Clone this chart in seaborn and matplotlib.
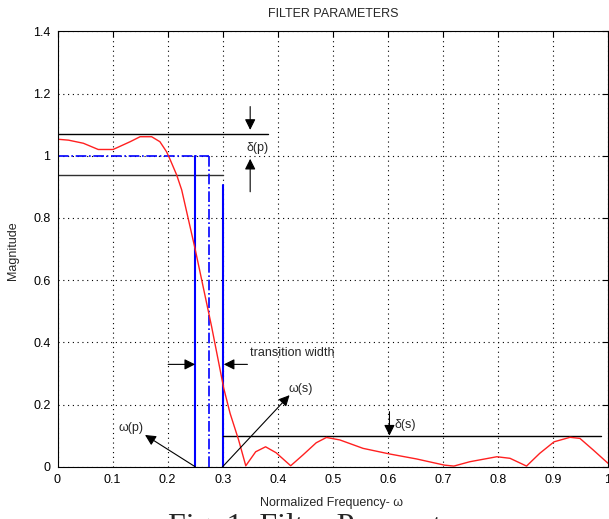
import numpy as np
import pandas as pd
import matplotlib
matplotlib.use('Agg')
import matplotlib.pyplot as plt
import seaborn as sns

# magnitude response
freq = [0.0, 0.02, 0.047, 0.074, 0.101, 0.132, 0.15, 0.171, 0.186, 0.198, 0.204,
        0.2165, 0.2256, 0.25, 0.268, 0.28, 0.302, 0.3136, 0.329, 0.342, 0.36, 0.378,
        0.397, 0.4236, 0.446, 0.47, 0.4885, 0.513, 0.555, 0.603, 0.652, 0.703, 0.72,
        0.749, 0.798, 0.822, 0.852, 0.876, 0.902, 0.931, 0.949, 0.973, 1.0]
mag = [1.053, 1.05, 1.04, 1.02, 1.02, 1.045, 1.061, 1.061, 1.045, 1.013, 0.99,
       0.938, 0.89, 0.70, 0.55, 0.45, 0.252, 0.171, 0.086, 0.003, 0.048, 0.064,
       0.045, 0.003, 0.038, 0.077, 0.094, 0.086, 0.059, 0.041, 0.025, 0.005, 0.002,
       0.016, 0.032, 0.027, 0.002, 0.043, 0.08, 0.0945, 0.091, 0.054, 0.011]

# filter spec values
wp, wc, ws = 0.25, 0.275, 0.3
dp_hi, dp_lo, ds = 1.07, 0.938, 0.1

xticks = [0, 0.1, 0.2, 0.3, 0.4, 0.5, 0.6, 0.7, 0.8, 0.9, 1]
xtick_labels = ['0', '0.1', '0.2', '0.3', '0.4', '0.5', '0.6', '0.7', '0.8', '0.9', '1']
yticks = [0, 0.2, 0.4, 0.6, 0.8, 1, 1.2, 1.4]
ytick_labels = ['0', '0.2', '0.4', '0.6', '0.8', '1', '1.2', '1.4']

sns.set_style('white')
plt.rcParams['font.family'] = ['Liberation Sans', 'DejaVu Sans']

df = pd.DataFrame({'freq': freq, 'mag': mag})

fig = plt.figure(figsize=(6.09, 5.19), dpi=100)
ax = fig.add_axes([57.5 / 609, 1 - 466.7 / 519, (608 - 57.5) / 609, (466.7 - 31.3) / 519])

# spec lines
ax.plot([0, 0.383], [dp_hi, dp_hi], color='black', lw=1)
ax.plot([0, ws], [dp_lo, dp_lo], color='#303030', lw=1)
ax.plot([0, wc], [1, 1], color='blue', ls='-.', lw=1.2)
ax.plot([wc, wc], [0, 1], color='blue', ls='-.', lw=1.2)
ax.plot([wp, wp], [0, 1], color='blue', lw=1.5)
ax.plot([ws, ws], [0, 0.906], color='blue', lw=1.5)
ax.plot([ws, 0.987], [ds, ds], color='black', lw=1)

sns.lineplot(data=df, x='freq', y='mag', sort=False, estimator=None,
             color='#ff2020', lw=1, ax=ax)

arrow = dict(arrowstyle='-|>', color='black', lw=0.8, mutation_scale=16,
             shrinkA=0, shrinkB=0)
ax.annotate('', xy=(0.35, 1.083), xytext=(0.35, 1.158), arrowprops=arrow)
ax.annotate('', xy=(0.35, 0.99), xytext=(0.35, 0.884), arrowprops=arrow)
ax.annotate('', xy=(wp, 0.329), xytext=(0.201, 0.329), arrowprops=arrow)
ax.annotate('', xy=(0.302, 0.329), xytext=(0.345, 0.329), arrowprops=arrow)
ax.annotate('', xy=(0.159, 0.102), xytext=(wp, 0), arrowprops=arrow)
ax.annotate('', xy=(0.4215, 0.23), xytext=(ws, 0), arrowprops=arrow)
ax.annotate('', xy=(0.603, ds), xytext=(0.603, 0.177), arrowprops=arrow)

fs = 9
ax.text(0.343, 1.024, 'δ(p)', fontsize=fs, va='center')
ax.text(0.349, 0.364, 'transition width', fontsize=fs, va='center')
ax.text(0.11, 0.124, 'ω(p)', fontsize=fs, va='center')
ax.text(0.419, 0.249, 'ω(s)', fontsize=fs, va='center')
ax.text(0.613, 0.134, 'δ(s)', fontsize=fs, va='center')

ax.set_xlim(0, 1)
ax.set_ylim(0, 1.4)
ax.set_xticks(xticks)
ax.set_xticklabels(xtick_labels)
ax.set_yticks(yticks)
ax.set_yticklabels(ytick_labels)
ax.set_xlabel('')
ax.set_ylabel('')
ax.tick_params(direction='in', top=True, right=True, length=4, width=0.8,
               labelsize=fs, colors='black', pad=5)
ax.grid(True, color='black', lw=0.8, ls=(0, (1, 3.3)))
for s in ax.spines.values():
    s.set_color('black')
    s.set_linewidth(0.8)

fig.text(333 / 609, 1 - 14 / 519, 'FILTER PARAMETERS', fontsize=fs, ha='center', va='center')
fig.text(332 / 609, 1 - 503 / 519, 'Normalized Frequency- ω', fontsize=fs, ha='center', va='center')
fig.text(12.7 / 609, 1 - 251 / 519, 'Magnitude', fontsize=fs, rotation=90, ha='center', va='center')
# caption sits mostly below the bottom edge, as in the reference
fig.text(168 / 609, 1 - 513 / 519, 'Fig. 1: Filter Parameters', family='Liberation Serif',
         fontsize=23, ha='left', va='top')

fig.savefig('out.png', dpi=100)
